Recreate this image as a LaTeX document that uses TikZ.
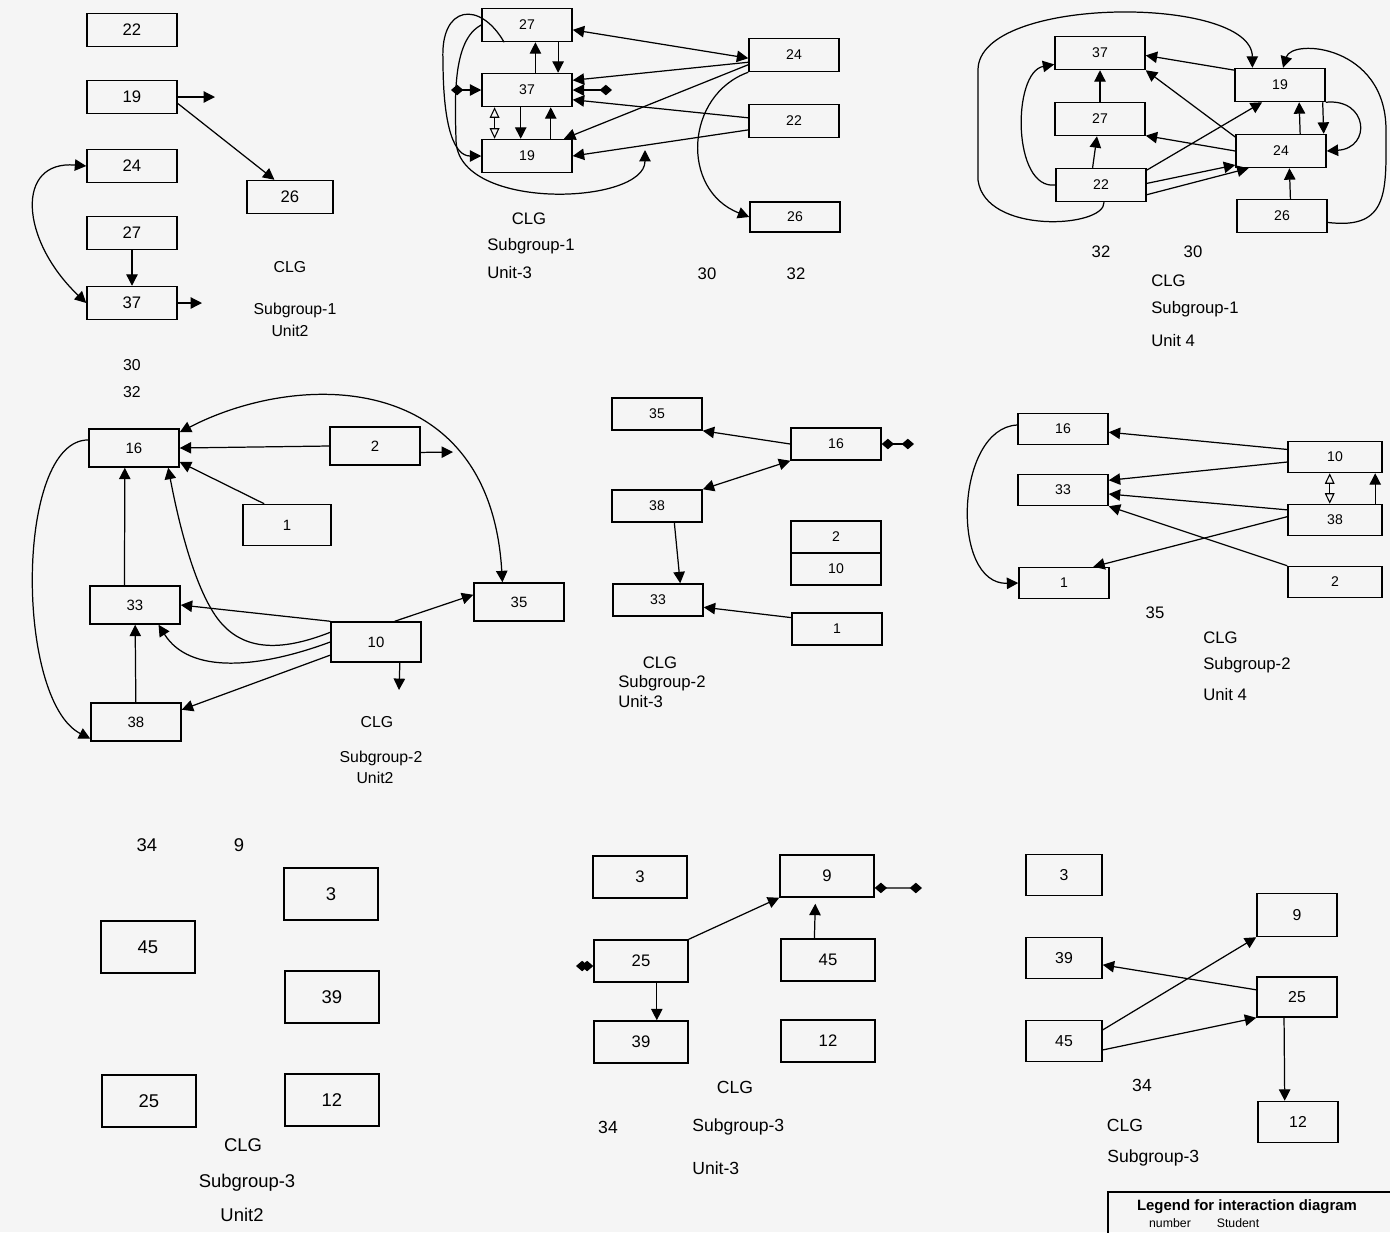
\documentclass[tikz,border=0pt]{standalone}
\usepackage{fontspec}
\setmainfont{Liberation Sans}
\usetikzlibrary{arrows.meta}

\begin{document}
\begin{tikzpicture}[
        x=0.02cm, y=-0.02cm,
        box/.style={draw, line width=0.85pt, minimum width=1.8cm, minimum height=0.66cm, inner sep=0pt, font=\fontsize{8}{9}\selectfont},
        bigbox/.style={box, line width=1.3pt, minimum width=1.88cm, minimum height=1.04cm, font=\fontsize{10.5}{12}\selectfont},
        lbl/.style={inner sep=0pt, font=\fontsize{9.5}{11}\selectfont},
        arr/.style={-{Triangle[length=6.5pt, width=6.5pt]}, line width=0.7pt},
        both/.style={{Triangle[length=6.5pt, width=6.5pt]}-{Triangle[length=6.5pt, width=6.5pt]}, line width=0.7pt},
        hollow/.style={{Triangle[open, length=6pt, width=5.5pt]}-{Triangle[open, length=6pt, width=5.5pt]}, line width=0.6pt},
        dd/.style={{Diamond[length=7pt, width=6pt]}-{Diamond[length=7pt, width=6pt]}, line width=0.7pt},
        darr/.style={{Diamond[length=7pt, width=6pt]}-{Triangle[length=6.5pt, width=6.5pt]}, line width=0.7pt},
        arrd/.style={{Triangle[length=6.5pt, width=6.5pt]}-{Diamond[length=7pt, width=6pt]}, line width=0.7pt}
      ]
        \path[use as bounding box, fill=black!4] (0,0) rectangle (1390,1232);

        % Subgroup-1, Unit2
        \begin{scope}[box/.append style={font=\fontsize{9.5}{11}\selectfont}, lbl/.append style={font=\fontsize{9}{10}\selectfont}]
        \node[box] (A22) at (132,30) {22};
        \node[box] (A19) at (132,97) {19};
        \node[box] (A24) at (132,166) {24};
        \node[box, minimum width=1.72cm] (A26) at (290,197) {26};
        \node[box] (A27) at (132,233) {27};
        \node[box] (A37) at (132,303) {37};
        \coordinate (A19out) at (215,97);
        \coordinate (A37out) at (202,303);
        \draw[arr] (A19.east) -- (A19out);
        \draw[arr] (A19.-8) -- (A26.132);
        \draw[both] (A24.west) .. controls (15,160) and (20,240) .. (A37.west);
        \draw[arr] (A27) -- (A37);
        \draw[arr] (A37.east) -- (A37out);
        \node[lbl] (Aclg) at (290,267) {CLG};
        \node[lbl] (Asub) at (295,310) {Subgroup-1};
        \node[lbl] (Aunit) at (290,331) {Unit2};
        \node[lbl] (Ax30) at (132,365) {30};
        \node[lbl] (Ax32) at (132,392) {32};
        \end{scope}

        % Subgroup-1, Unit-3
        \node[box] (B27) at (527,25) {27};
        \node[box] (B37) at (527,90) {37};
        \node[box] (B19) at (527,156) {19};
        \node[box] (B24) at (794,55) {24};
        \node[box] (B22) at (794,121) {22};
        \node[box, minimum height=0.6cm] (B26) at (795,217) {26};
        \coordinate (B37l) at (451,90);
        \coordinate (B37r) at (612,90);
        \coordinate (Btip) at (645,150);
        \draw[both] (B27.-6) -- (B24.184);
        \draw[arr] (B24.189) -- (B37.12);
        \draw[arr] (B24.192) -- (B19.25);
        \draw[arr] (B22.176) -- (B37.-12);
        \draw[arr] (B22.191) -- (B19.east);
        \draw[arr] (B24.south west) .. controls (685,95) and (680,190) .. (B26.west);
        \draw[arr] (B37.64) -- (B27.-64);
        \draw[arr] (B27.-29) -- (B37.29);
        \draw[arr] (B37.-110) -- (B19.110);
        \draw[arr] (B19.36) -- (B37.-36);
        \draw[hollow] (B37.-152) -- (B19.152);
        \draw[darr] (B37l) -- (B37.west);
        \draw[arrd] (B37.east) -- (B37r);
        \draw[arr] (B27.-143) .. controls (480,0) and (440,5) .. (443,60) .. controls (443,130) and (455,156) .. (B19.west);
        \draw[arr] (B27.west) .. controls (452,40) and (455,100) .. (456,140) .. controls (457,212) and (645,205) .. (Btip);
        \node[lbl] (Bclg) at (529,219) {CLG};
        \node[lbl, anchor=west] (Bsub) at (487,246) {Subgroup-1};
        \node[lbl, anchor=west] (Bunit) at (487,273) {Unit-3};
        \node[lbl] (Bx30) at (707,274) {30};
        \node[lbl] (Bx32) at (796,274) {32};

        % Subgroup-1, Unit 4
        \node[box] (C37) at (1100,53) {37};
        \node[box] (C27) at (1100,119) {27};
        \node[box] (C22) at (1101,185) {22};
        \node[box] (C19) at (1280,85) {19};
        \node[box] (C24) at (1281,151) {24};
        \node[box] (C26) at (1282,216) {26};
        \draw[arr] (C27) -- (C37);
        \draw[arr] (C22.116) -- (C27.-100);
        \draw[arr] (C19.162) -- (C37.-3);
        \draw[arr] (C24.163) -- (C37.south east);
        \draw[arr] (C24.west) -- (C27.-20);
        \draw[arr] (C22.18) -- (C19.-136);
        \draw[arr] (C22.2) -- (C24.-163);
        \draw[arr] (C22.-12) -- (C24.-152);
        \draw[arr] (C24.42) -- (C19.-42);
        \draw[arr] (C19.-22) -- (C24.22);
        \draw[arr] (C19.south east) .. controls (1368,98) and (1372,148) .. (C24.east);
        \draw[arr] (C26.64) -- (C24.-64);
        \draw[arr] (C26.-8) .. controls (1390,230) and (1386,190) .. (1386,130) .. controls (1386,45) and (1292,38) .. (C19.80);
        \draw[arr] (C22.west) .. controls (1012,190) and (1012,72) .. (C37.-166);
        \draw[arr] (C22.-80) .. controls (1105,228) and (985,235) .. (978,180) -- (978,70) .. controls (978,-5) and (1252,-5) .. (C19.148);
        \node[lbl] (Cx32) at (1101,252) {32};
        \node[lbl] (Cx30) at (1193,252) {30};
        \node[lbl, anchor=west] (Cclg) at (1151,281) {CLG};
        \node[lbl, anchor=west] (Csub) at (1151,309) {Subgroup-1};
        \node[lbl, anchor=west] (Cunit) at (1151,341) {Unit 4};

        % Subgroup-2, Unit2
        \begin{scope}[box/.append style={minimum height=0.76cm, font=\fontsize{8.5}{10}\selectfont}, lbl/.append style={font=\fontsize{9}{10}\selectfont}]
        \node[box] (D16) at (134,448) {16};
        \node[box] (D2) at (375,446) {2};
        \node[box, minimum height=0.82cm, minimum width=1.76cm] (D1) at (287,525) {1};
        \node[box] (D33) at (135,605) {33};
        \node[box] (D35) at (519,602) {35};
        \node[box, minimum height=0.8cm] (D10) at (376,642) {10};
        \node[box] (D38) at (136,722) {38};
        \coordinate (D2out) at (453,452);
        \coordinate (D10out) at (399,690);
        \draw[arr] (D2.west) -- (D16.east);
        \draw[arr] (D2.-8) -- (D2out);
        \draw[arr] (D1.137) -- (D16.-17);
        \draw[both] (D16.19) .. controls (300,370) and (490,370) .. (D35.130);
        \draw[arr] (D33.118) -- (D16.-115);
        \draw[arr] (D38) -- (D33);
        \draw[arr] (D16.170) .. controls (15,440) and (15,700) .. (D38.-160);
        \draw[arr] (D10.north west) -- (D33.east);
        \draw[arr] (D10.168) .. controls (280,652) and (240,652) .. (215,615) .. controls (195,585) and (180,530) .. (D16.-30);
        \draw[arr] (D10.west) .. controls (260,668) and (190,675) .. (D33.-40);
        \draw[arr] (D10.-164) -- (D38.15);
        \draw[arr] (D10.48) -- (D35.171);
        \draw[arr] (D10.-41) -- (D10out);
        \node[lbl] (Dclg) at (377,722) {CLG};
        \node[lbl] (Dsub) at (381,758) {Subgroup-2};
        \node[lbl] (Dunit) at (375,778) {Unit2};
        \end{scope}

        % Subgroup-2, Unit-3
        \begin{scope}[box/.append style={minimum height=0.64cm}]
        \node[box] (E35) at (657,414) {35};
        \node[box] (E16) at (836,444) {16};
        \node[box] (E38) at (657,506) {38};
        \node[box] (E2) at (836,537) {2};
        \node[box] (E10) at (836,569) {10};
        \node[box] (E33) at (658,600) {33};
        \node[box] (E1) at (837,629) {1};
        \end{scope}
        \coordinate (E16r) at (914,444);
        \draw[arr] (E16.west) -- (E35.south east);
        \draw[both] (E16.south west) -- (E38.north east);
        \draw[arr] (E38.-44) -- (E33.37);
        \draw[arr] (E1.166) -- (E33.-9);
        \draw[dd] (E16.east) -- (E16r);
        \node[lbl] (Eclg) at (660,663) {CLG};
        \node[lbl, anchor=west] (Esub) at (618,683) {Subgroup-2};
        \node[lbl, anchor=west] (Eunit) at (618,702) {Unit-3};

        % Subgroup-2, Unit 4
        \begin{scope}[box/.append style={minimum height=0.62cm}]
        \node[box] (F16) at (1063,429) {16};
        \node[box] (F33) at (1063,490) {33};
        \node[box] (F1) at (1064,583) {1};
        \node[box, minimum width=1.88cm] (F10) at (1335,457) {10};
        \node[box, minimum width=1.88cm] (F38) at (1335,520) {38};
        \node[box, minimum width=1.88cm] (F2) at (1335,582) {2};
        \end{scope}
        \draw[arr] (F10.171) -- (F16.-4);
        \draw[arr] (F10.-174) -- (F33.12);
        \draw[arr] (F38.168) -- (F33.-5);
        \draw[arr] (F2.north west) -- (F33.south east);
        \draw[arr] (F38.176) -- (F1.29);
        \draw[arr] (F16.175) .. controls (955,428) and (950,585) .. (F1.west);
        \draw[hollow] (F10.-108) -- (F38.108);
        \draw[arr] (F38.22) -- (F10.-22);
        \node[lbl] (Fx35) at (1155,613) {35};
        \node[lbl, anchor=west] (Fclg) at (1203,638) {CLG};
        \node[lbl, anchor=west] (Fsub) at (1203,665) {Subgroup-2};
        \node[lbl, anchor=west] (Funit) at (1203,695) {Unit 4};

        % Subgroup-3, Unit2
        \begin{scope}[lbl/.append style={font=\fontsize{10.5}{12}\selectfont}]
        \node[bigbox] (G3) at (331,894) {3};
        \node[bigbox] (G45) at (148,947) {45};
        \node[bigbox] (G39) at (332,997) {39};
        \node[bigbox] (G25) at (149,1101) {25};
        \node[bigbox] (G12) at (332,1100) {12};
        \node[lbl] (Gx34) at (147,845) {34};
        \node[lbl] (Gx9) at (239,845) {9};
        \node[lbl] (Gclg) at (243,1145) {CLG};
        \node[lbl] (Gsub) at (247,1183) {Subgroup-3};
        \node[lbl] (Gunit) at (242,1215) {Unit2};
        \end{scope}

        % Subgroup-3, Unit-3
        \begin{scope}[box/.append style={minimum width=1.88cm, minimum height=0.84cm, font=\fontsize{9.5}{11}\selectfont}, lbl/.append style={font=\fontsize{10}{12}\selectfont}]
        \node[box] (H3) at (640,877) {3};
        \node[box] (H9) at (827,876) {9};
        \node[box] (H25) at (641,961) {25};
        \node[box] (H45) at (828,960) {45};
        \node[box] (H39) at (641,1042) {39};
        \node[box] (H12) at (828,1041) {12};
        \coordinate (H9r) at (922,888);
        \coordinate (H25l) at (576,966);
        \draw[arr] (H25.north east) -- (H9.south west);
        \draw[arr, shorten >=3.4pt] (H45.122) -- (H9.-118);
        \draw[arr] (H25.-54) -- (H39.54);
        \draw[dd] (H9.-14) -- (H9r);
        \draw[dd] (H25l) -- (H25.-174);
        \node[lbl] (Hclg) at (735,1087) {CLG};
        \node[lbl] (Hx34) at (608,1127) {34};
        \node[lbl, anchor=west] (Hsub) at (692,1127) {Subgroup-3};
        \node[lbl, anchor=west] (Hunit) at (692,1168) {Unit-3};
        \end{scope}

        % Subgroup-3, Unit 4
        \begin{scope}[box/.append style={minimum width=1.52cm, minimum height=0.82cm, font=\fontsize{9}{10}\selectfont}, lbl/.append style={font=\fontsize{10}{12}\selectfont}]
        \node[box] (I3) at (1064,875) {3};
        \node[box] (I39) at (1064,958) {39};
        \node[box] (I45) at (1064,1041) {45};
        \node[box, minimum width=1.6cm, minimum height=0.86cm] (I9) at (1297,915) {9};
        \node[box, minimum width=1.6cm, minimum height=0.8cm] (I25) at (1297,997) {25};
        \node[box, minimum width=1.6cm] (I12) at (1298,1122) {12};
        \draw[arr] (I25.170) -- (I39.-10);
        \draw[arr] (I45.16) -- (I9.south west);
        \draw[arr] (I45.-13) -- (I25.south west);
        \draw[arr] (I25.-122) -- (I12.122);
        \node[lbl] (Ix34) at (1142,1085) {34};
        \node[lbl] (Iclg) at (1125,1125) {CLG};
        \node[lbl, anchor=west] (Isub) at (1107,1158) {Subgroup-3};
        \end{scope}

        % legend
        \node[draw, line width=1.3pt, anchor=north west, minimum width=6cm, minimum height=1cm] (legend) at (1107,1191) {};
        \node[lbl, font=\bfseries\fontsize{8.5}{10}\selectfont] (legtitle) at (1247,1207) {Legend for interaction diagram};
        \node[lbl, font=\fontsize{7}{8}\selectfont] (legnum) at (1170,1223) {number};
        \node[lbl, font=\fontsize{7}{8}\selectfont] (legstu) at (1238,1223) {Student};
      \end{tikzpicture}
\end{document}
